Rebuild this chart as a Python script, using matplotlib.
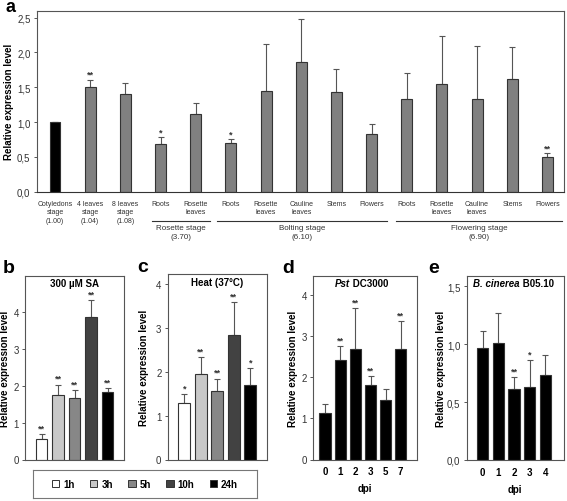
import matplotlib
matplotlib.use("Agg")
import matplotlib.pyplot as plt
import matplotlib.transforms as mtransforms
from matplotlib.patches import Patch
import numpy as np

plt.rcParams['font.family'] = ['Liberation Sans', 'DejaVu Sans']

# ── Data ──────────────────────────────────────────────────────────────────────
tissue_labels = ["Cotyledons\nstage\n(1.00)", "4 leaves\nstage\n(1.04)", "8 leaves\nstage\n(1.08)",
                 "Roots", "Rosette\nleaves",
                 "Roots", "Rosette\nleaves", "Cauline\nleaves", "Stems", "Flowers",
                 "Roots", "Rosette\nleaves", "Cauline\nleaves", "Stems", "Flowers"]
tissue_mean = [1.00, 1.51, 1.41, 0.69, 1.11, 0.70, 1.45, 1.87, 1.43, 0.83, 1.33, 1.54, 1.33, 1.62, 0.50]
tissue_top = [1.00, 1.61, 1.56, 0.78, 1.28, 0.75, 2.12, 2.48, 1.76, 0.97, 1.71, 2.24, 2.09, 2.08, 0.55]
tissue_sig = ["", "**", "", "*", "", "*", "", "", "", "", "", "", "", "", "**"]
stage_names = ["Rosette stage\n(3.70)", "Bolting stage\n(6.10)", "Flowering stage\n(6.90)"]
stage_spans = [(2.75, 4.4), (4.6, 9.45), (9.7, 14.4)]

hours = ["1h", "3h", "5h", "10h", "24h"]
hour_colors = ["#ffffff", "#c8c8c8", "#878787", "#424242", "#000000"]

sa_mean = [0.57, 1.75, 1.66, 3.88, 1.83]
sa_top = [0.69, 2.04, 1.89, 4.33, 1.95]
sa_sig = ["**", "**", "**", "**", "**"]

heat_mean = [1.28, 1.94, 1.55, 2.84, 1.69]
heat_top = [1.48, 2.33, 1.84, 3.58, 2.08]
heat_sig = ["*", "**", "**", "**", "*"]

pst_dpi = ["0", "1", "2", "3", "5", "7"]
pst_mean = [1.13, 2.42, 2.70, 1.81, 1.45, 2.70]
pst_top = [1.35, 2.76, 3.69, 2.04, 1.72, 3.38]
pst_sig = ["", "**", "**", "**", "", "**"]

bc_dpi = ["0", "1", "2", "3", "4"]
bc_mean = [0.97, 1.01, 0.61, 0.63, 0.73]
bc_top = [1.11, 1.27, 0.72, 0.86, 0.91]
bc_sig = ["", "", "**", "*", ""]

W, H = 567, 502
fig = plt.figure(figsize=(W / 100, H / 100), dpi=100)


def axpos(l, r, t, b):
    return [l / W, 1 - b / H, (r - l) / W, (b - t) / H]


def style_axes(ax):
    for s in ax.spines.values():
        s.set_color("#555555")
        s.set_linewidth(0.8)
    ax.tick_params(axis="y", direction="out", length=2.5, width=0.7,
                   labelsize=7, colors="#555555", labelcolor="#333333", pad=2)
    ax.tick_params(axis="x", length=0)


def draw_bars(ax, mean, top, sig, colors, width, star_off):
    x = np.arange(len(mean))
    ax.bar(x, mean, width=width, color=colors, edgecolor="#333333", linewidth=0.8, zorder=2)
    err = np.array(top) - np.array(mean)
    ax.errorbar(x, mean, yerr=[np.zeros(len(mean)), err], fmt="none",
                ecolor="#555555", elinewidth=0.8, capsize=2.3, capthick=0.8, zorder=1)
    for xi, t, s in zip(x, top, sig):
        if s:
            ax.text(xi, t + star_off, s, ha="center", va="bottom", fontsize=6.5,
                    fontweight="bold", color="#333333")


def ylabel(ax, x_px):
    # x_px is the centre of the rotated label, in figure pixels
    ax.set_ylabel("Relative expression level", fontsize=7, fontweight="bold")
    tr = mtransforms.blended_transform_factory(fig.transFigure, ax.transAxes)
    ax.yaxis.set_label_coords((x_px + 4) / W, 0.5, transform=tr)


def comma(vals):
    return [f"{v:.1f}".replace(".", ",") for v in vals]


# ── Panel a ───────────────────────────────────────────────────────────────────
ax = fig.add_axes(axpos(36.7, 564, 11.7, 192.7))
colors_a = ["#000000"] + ["#808080"] * (len(tissue_mean) - 1)
draw_bars(ax, tissue_mean, tissue_top, tissue_sig, colors_a, 0.31, 0.01)
ax.set_xlim(-0.52, 14.47)
ax.set_ylim(0, 2.6)
yt = [0, 0.5, 1.0, 1.5, 2.0, 2.5]
ax.set_yticks(yt)
ax.set_yticklabels(comma(yt))
ax.set_xticks(np.arange(len(tissue_labels)))
ax.set_xticklabels(tissue_labels, fontsize=5, color="#333333", linespacing=1.25)
style_axes(ax)
ax.tick_params(axis="x", pad=6)
ax.spines["bottom"].set_color("#333333")
ylabel(ax, 10)
trans = mtransforms.blended_transform_factory(ax.transData, ax.transAxes)
for name, (x0, x1) in zip(stage_names, stage_spans):
    ax.plot([x0, x1], [-0.1635, -0.1635], color="#333333", lw=0.8,
            transform=trans, clip_on=False)
    ax.text((x0 + x1) / 2, -0.178, name, transform=trans, ha="center", va="top",
            fontsize=5.8, color="#333333", linespacing=1.35)
fig.text(5 / W, 1 - 12 / H, "a", fontsize=13, fontweight="bold", va="baseline")

# ── Panel b ───────────────────────────────────────────────────────────────────
ax = fig.add_axes(axpos(25, 124, 276.7, 460.5))
draw_bars(ax, sa_mean, sa_top, sa_sig, hour_colors, 0.72, 0.04)
ax.set_xlim(-1, 5)
ax.set_ylim(0, 5)
ax.set_yticks([0, 1, 2, 3, 4])
ax.set_xticks([])
style_axes(ax)
ylabel(ax, 6)
ax.text(0.5, 0.985, "300 µM SA", transform=ax.transAxes, ha="center", va="top",
        fontsize=7, fontweight="bold")
fig.text(3 / W, 1 - 273 / H, "b", fontsize=14, fontweight="bold", va="baseline")

# ── Panel c ───────────────────────────────────────────────────────────────────
ax = fig.add_axes(axpos(167.7, 266.7, 275, 460.5))
draw_bars(ax, heat_mean, heat_top, heat_sig, hour_colors, 0.75, 0.04)
ax.set_xlim(-1, 5)
ax.set_ylim(0, 4.22)
ax.set_yticks([0, 1, 2, 3, 4])
ax.set_xticks([])
style_axes(ax)
ylabel(ax, 145)
ax.text(0.5, 0.985, "Heat (37°C)", transform=ax.transAxes, ha="center", va="top",
        fontsize=7, fontweight="bold")
fig.text(137 / W, 1 - 272 / H, "c", fontsize=14, fontweight="bold", va="baseline")

# ── Panel d ───────────────────────────────────────────────────────────────────
ax = fig.add_axes(axpos(313.3, 416.7, 276.7, 460.5))
draw_bars(ax, pst_mean, pst_top, pst_sig, ["#000000"] * len(pst_mean), 0.75, 0.04)
ax.set_xlim(-0.78, 6.05)
ax.set_ylim(0, 4.48)
ax.set_yticks([0, 1, 2, 3, 4])
ax.set_xticks(np.arange(len(pst_dpi)))
ax.set_xticklabels(pst_dpi, fontsize=7, fontweight="bold")
style_axes(ax)
ax.tick_params(axis="x", pad=5)
ax.set_xlabel("dpi", fontsize=7, fontweight="bold", labelpad=5)
ylabel(ax, 294)
t1 = ax.text(0.21, 0.985, "Pst", transform=ax.transAxes, ha="left", va="top",
             fontsize=7, fontweight="bold", fontstyle="italic")
ax.annotate(" DC3000", xy=(1, 0), xycoords=t1, va="bottom", ha="left",
            fontsize=7, fontweight="bold")
fig.text(282 / W, 1 - 273 / H, "d", fontsize=14, fontweight="bold", va="baseline")

# ── Panel e ───────────────────────────────────────────────────────────────────
ax = fig.add_axes(axpos(466.7, 564, 276.7, 461))
draw_bars(ax, bc_mean, bc_top, bc_sig, ["#000000"] * len(bc_mean), 0.72, 0.012)
ax.set_xlim(-1.03, 5.2)
ax.set_ylim(0, 1.59)
ye = [0, 0.5, 1.0, 1.5]
ax.set_yticks(ye)
ax.set_yticklabels(comma(ye))
ax.set_xticks(np.arange(len(bc_dpi)))
ax.set_xticklabels(bc_dpi, fontsize=7, fontweight="bold")
style_axes(ax)
ax.tick_params(axis="x", pad=5)
ax.set_xlabel("dpi", fontsize=7, fontweight="bold", labelpad=5)
ylabel(ax, 442)
t2 = ax.text(0.065, 0.985, "B. cinerea", transform=ax.transAxes, ha="left", va="top",
             fontsize=7, fontweight="bold", fontstyle="italic")
ax.annotate(" B05.10", xy=(1, 0), xycoords=t2, va="bottom", ha="left",
            fontsize=7, fontweight="bold")
fig.text(428 / W, 1 - 273 / H, "e", fontsize=14, fontweight="bold", va="baseline")

# ── Legend for b/c ────────────────────────────────────────────────────────────
lax = fig.add_axes(axpos(33.3, 256.7, 471, 499.3))
lax.set_xticks([])
lax.set_yticks([])
for s in lax.spines.values():
    s.set_color("#777777")
    s.set_linewidth(0.8)
handles = [Patch(facecolor=c, edgecolor="#333333", linewidth=0.7) for c in hour_colors]
lax.legend(handles, hours, ncol=5, loc="center", frameon=False,
           prop={"weight": "bold", "size": 7}, handlelength=0.75, handleheight=0.75,
           handletextpad=0.4, columnspacing=1.6, borderaxespad=0)

fig.savefig("out.png", dpi=100)
